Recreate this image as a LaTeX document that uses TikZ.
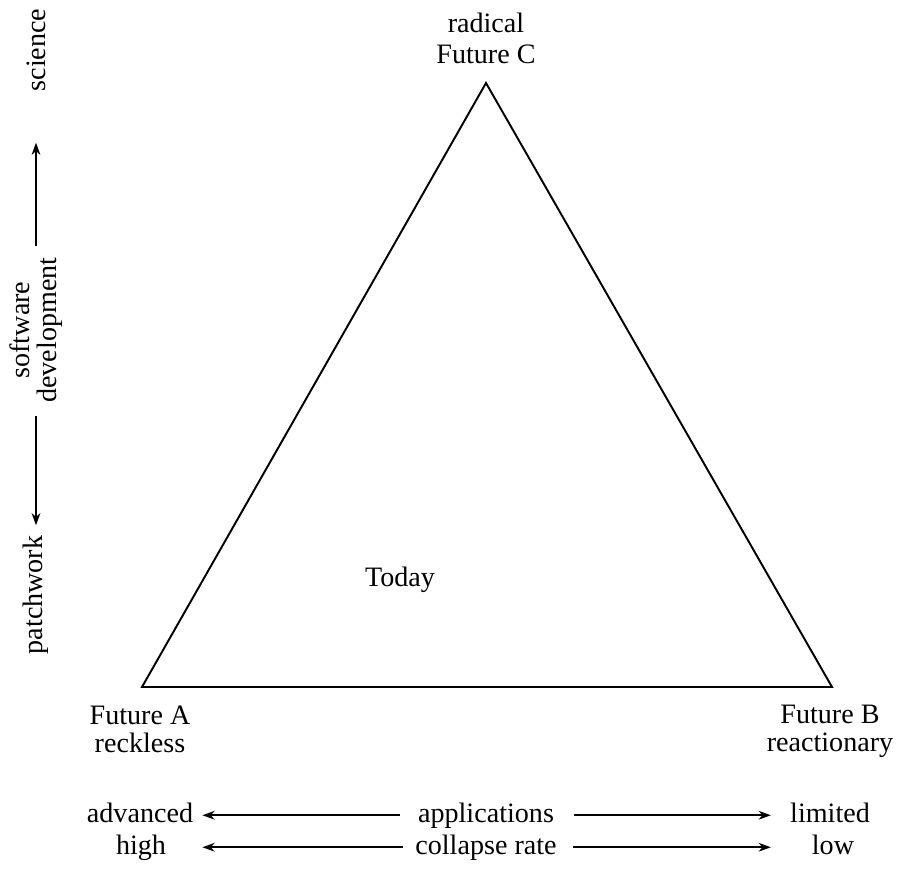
\documentclass[tikz,border=0pt]{standalone}
\usepackage{fontspec}
\setmainfont{Liberation Serif}
\usetikzlibrary{arrows.meta}
\tikzset{
    lbl/.style={
        font=\fontsize{16}{19}\selectfont, inner sep=0.08cm, align=center
    },
    vlbl/.style={
        lbl, rotate=90
    },
    tri_line/.style={
        line width=1.1pt, line join=miter
    },
    axis_arrow/.style={
        -{Stealth[length=7pt,width=5pt]}, line width=0.9pt
    }
}
\begin{document}
\begin{tikzpicture}[x=0.02cm, y=-0.02cm]
    \useasboundingbox (0,0) rectangle (898,871);

    % Triangle of the three futures
    \coordinate (futA) at (142,687);
    \coordinate (futB) at (832,687);
    \coordinate (futC) at (486,83);
    \draw[tri_line] (futA) -- (futB) -- (futC) -- cycle;

    % Corner labels
    \node[lbl, font=\fontsize{16}{17.6}\selectfont] (lbl_c) at (486,38) {radical\\Future C};
    \node[lbl, font=\fontsize{16}{16}\selectfont] (lbl_a) at (140,729) {Future A\\reckless};
    \node[lbl, font=\fontsize{16}{16}\selectfont] (lbl_b) at (830,731) {Future B\\reactionary};
    \node[lbl] (today) at (400,580) {Today};

    % Vertical axis: software development
    \node[vlbl] (sci) at (36,50) {science};
    \node[vlbl, font=\fontsize{16}{15.3}\selectfont] (swdev) at (36,330) {software\\development};
    \node[vlbl] (patch) at (36,595) {patchwork};
    \draw[axis_arrow, shorten <=0.15cm, shorten >=0.94cm] (swdev.east) -- (sci.west);
    \draw[axis_arrow, shorten <=0.19cm, shorten >=0.12cm] (swdev.west) -- (patch.east);

    % Horizontal axes: applications and collapse rate
    \node[lbl, anchor=base] (adv) at (140,822) {advanced};
    \node[lbl, anchor=base] (apps) at (486,822) {applications};
    \node[lbl, anchor=base] (lim) at (830,822) {limited};
    \node[lbl, anchor=base] (high) at (141,854) {high};
    \node[lbl, anchor=base] (coll) at (486,854) {collapse rate};
    \node[lbl, anchor=base] (low) at (833,854) {low};

    \draw[axis_arrow, shorten <=0.28cm, shorten >=0.1cm] (apps.west) -- (apps.west -| adv.east);
    \draw[axis_arrow, shorten <=0.32cm, shorten >=0.3cm] (apps.east) -- (apps.east -| lim.west);
    \draw[axis_arrow, shorten <=0.16cm, shorten >=0.1cm] (coll.west) -- (coll.west -| adv.east);
    \draw[axis_arrow, shorten <=0.24cm, shorten >=0.3cm] (coll.east) -- (coll.east -| lim.west);
\end{tikzpicture}
\end{document}
